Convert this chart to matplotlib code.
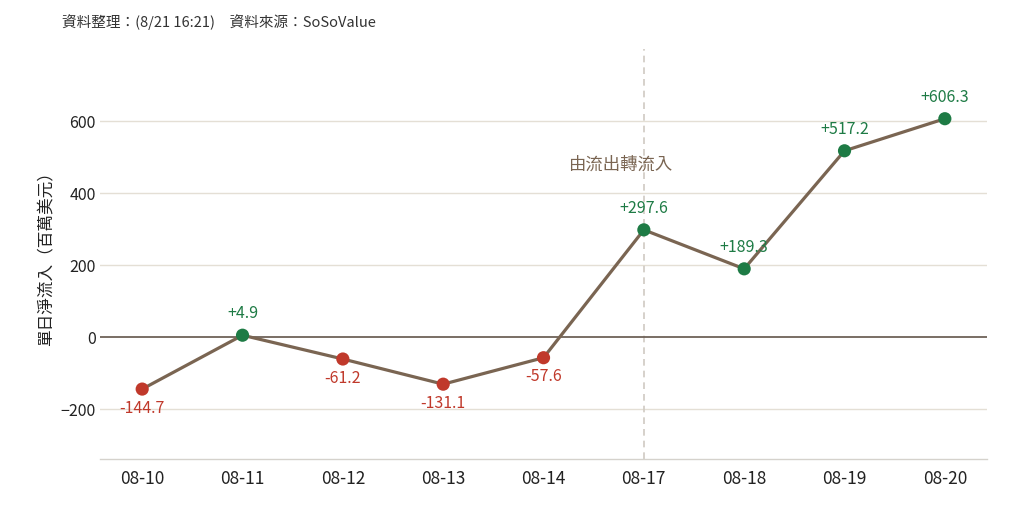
import matplotlib
matplotlib.use("Agg")
import matplotlib.pyplot as plt

plt.rcParams['font.family'] = ['Noto Sans CJK TC', 'DejaVu Sans']
plt.rcParams['font.weight'] = 'medium'

dates = ["08-10", "08-11", "08-12", "08-13", "08-14", "08-17", "08-18", "08-19", "08-20"]
flows = [-144.7, 4.9, -61.2, -131.1, -57.6, 297.6, 189.3, 517.2, 606.3]
yticks = [-200, 0, 200, 400, 600]
ytick_labels = ["\u2212200", "0", "200", "400", "600"]

line_color = "#7a6552"
green = "#1e7b45"
red = "#c0392b"

fig = plt.figure(figsize=(10.23, 5.10), dpi=100)
ax = fig.add_axes([0.0978, 0.098, 0.867, 0.804])

x = list(range(len(dates)))
ax.set_xlim(-0.42, len(dates) - 1 + 0.42)
ax.set_ylim(-339, 800)

for t in yticks:
    if t == 0:
        ax.axhline(0, color="#6e6258", lw=1.3, zorder=1)
    else:
        ax.axhline(t, color="#e4dfd5", lw=1.0, zorder=0)

ax.axvline(5, color="#cfcac2", lw=1.2, ls=(0, (4, 3)), zorder=0)

ax.plot(x, flows, color=line_color, lw=2.3, zorder=2)
colors = [green if v >= 0 else red for v in flows]
ax.scatter(x, flows, s=90, c=colors, zorder=3, edgecolors="none")

for xi, v in zip(x, flows):
    if v >= 0:
        ax.annotate(f"+{v:.1f}", (xi, v), xytext=(0, 10), textcoords="offset points",
                    ha="center", va="bottom", color=green, fontsize=11.5)
    else:
        ax.annotate(f"-{abs(v):.1f}", (xi, v), xytext=(0, -7), textcoords="offset points",
                    ha="center", va="top", color=red, fontsize=11.5)

ax.text(4.76, 480, "由流出轉流入", color=line_color, fontsize=12.5, ha="center", va="center")

ax.set_xticks(x)
ax.set_xticklabels(dates, fontsize=12.5, color="#222222")
ax.set_yticks(yticks)
ax.set_yticklabels(ytick_labels, fontsize=11.5, color="#222222")
ax.tick_params(axis="y", length=0, pad=3)
ax.tick_params(axis="x", length=0, pad=7)

for s in ["top", "right", "left"]:
    ax.spines[s].set_visible(False)
ax.spines["bottom"].set_color("#d5d2cc")
ax.spines["bottom"].set_linewidth(1.0)

ax.set_ylabel("單日淨流入（百萬美元）", fontsize=12, color="#222222", labelpad=4)

fig.text(0.0605, 0.957, "資料整理：(8/21 16:21)　資料來源：SoSoValue", fontsize=10.5,
         color="#333333", ha="left", va="center")

fig.savefig("out.png", dpi=100, facecolor="white")
